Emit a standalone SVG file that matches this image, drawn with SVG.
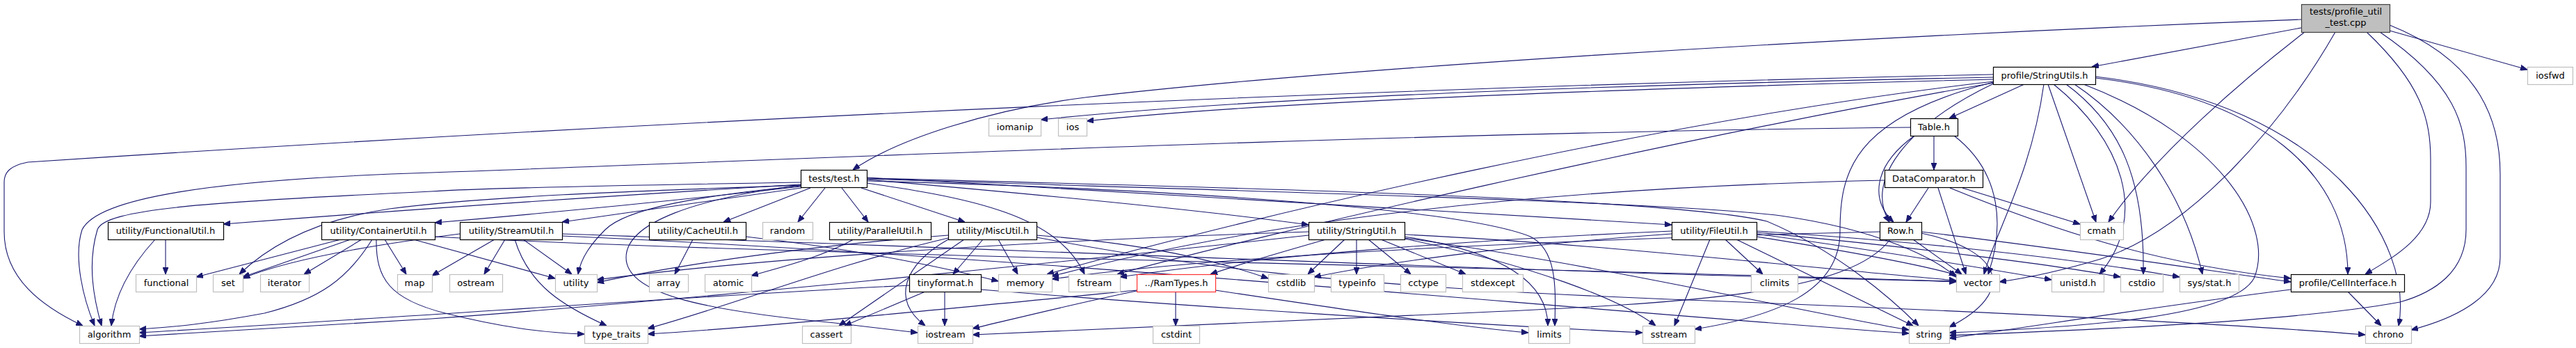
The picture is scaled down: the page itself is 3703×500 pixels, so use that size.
<svg xmlns="http://www.w3.org/2000/svg" width="3703" height="500" viewBox="0 0 3703 500">
<defs>
<style>
.edges path{fill:none;stroke:#191970;stroke-width:1.1;marker-end:url(#arr)}
rect{fill:#fff;stroke-width:1.2}
.n rect{stroke:#000}
.e rect{stroke:#bfbfbf}
.r rect{stroke:#ff3030}
.root rect{fill:#bfbfbf;stroke:#404040}
text{font-family:"DejaVu Sans","Liberation Sans",sans-serif;font-size:13px;text-anchor:middle;fill:#000}
</style>
<marker id="arr" markerUnits="userSpaceOnUse" markerWidth="10" markerHeight="8" refX="10" refY="4" orient="auto"><path d="M0,0 L10,4 L0,8 z" fill="#191970" stroke="#191970"/></marker>
</defs>
<rect x="0" y="0" width="3703" height="500" fill="#fff" stroke="none"/>
<g class="edges" id="edges">
<path d="M3308,28 C2600,55 1900,100 1560,140 C1420,158 1290,200 1226,244"/>
<path d="M3308,40 L3007,96"/>
<path d="M3313,46 C3230,110 3100,220 3031,319"/>
<path d="M3357,46 C3280,180 3150,330 3020,372 C2960,390 2910,400 2874,405"/>
<path d="M3402,46 C3480,120 3494,170 3494,230 L3494,290 C3494,340 3440,370 3400,394"/>
<path d="M3421,46 C3530,120 3545,180 3545,240 L3545,330 C3545,390 3500,420 3450,434 C3300,462 3000,474 2802,482"/>
<path d="M3435,36 C3570,90 3594,180 3594,250 L3594,370 C3594,430 3520,460 3466,474"/>
<path d="M3435,44 L3633,100"/>
<path d="M2865,107 C2000,125 1000,170 40,233 C15,238 6,247 6,262 L6,333 C6,400 60,440 119,468"/>
<path d="M2865,111 C2300,122 1800,140 1496,172"/>
<path d="M2865,114 C2300,128 1800,148 1562,174"/>
<path d="M2866,117 C2400,170 1800,310 1505,394"/>
<path d="M2866,119 C2400,200 1800,340 1606,394"/>
<path d="M2910,121 L2802,170"/>
<path d="M2866,120 C2740,180 2680,260 2716,319"/>
<path d="M2866,118 C2660,170 2645,250 2645,333 C2645,420 2550,455 2436,473"/>
<path d="M2938,121 C2920,250 2870,330 2852,394"/>
<path d="M2944,121 L3013,319"/>
<path d="M2952,121 C3050,200 3090,310 3018,394"/>
<path d="M2970,121 C3050,180 3083,260 3081,394"/>
<path d="M2982,121 C3070,180 3140,280 3166,394"/>
<path d="M3012,112 C3250,140 3375,250 3375,394"/>
<path d="M3012,110 C3350,150 3470,350 3448,468"/>
<path d="M2995,121 C3200,200 3270,330 3240,400 C3210,455 3000,470 2802,478"/>
<path d="M2746,183 C2000,190 1000,235 620,248 C300,258 140,285 118,330 C105,370 120,430 136,468"/>
<path d="M2752,195 C2690,240 2690,290 2722,319"/>
<path d="M2780,195 L2780,244"/>
<path d="M2809,195 C2880,250 2880,330 2858,394"/>
<path d="M2709,259 C2200,270 1800,320 1512,397"/>
<path d="M2772,270 L2740,319"/>
<path d="M2786,270 L2826,394"/>
<path d="M2821,270 L2990,322"/>
<path d="M2803,270 C2950,330 3100,380 3293,400"/>
<path d="M2750,344 L2820,394"/>
<path d="M2762,335 C2880,360 2900,420 2802,470"/>
<path d="M2762,333 C2950,355 3150,385 3293,405"/>
<path d="M2717,344 C2660,420 2450,435 2100,450 C1800,462 1500,476 1398,481"/>
<path d="M2702,333 C2400,340 1800,360 1512,401"/>
<path d="M2458,344 L2407,468"/>
<path d="M2480,344 L2534,394"/>
<path d="M2496,344 L2750,468"/>
<path d="M2525,340 C2650,360 2760,380 2812,395"/>
<path d="M2525,336 C2700,360 2850,385 2949,402"/>
<path d="M2525,334 C2750,355 2950,380 3048,398"/>
<path d="M2525,332 C2800,350 3000,375 3133,398"/>
<path d="M2403,332 C2100,345 1800,370 1610,398"/>
<path d="M2403,336 C2200,350 2000,375 1889,398"/>
<path d="M1933,344 L1880,394"/>
<path d="M1950,344 L1950,394"/>
<path d="M1967,344 L2028,394"/>
<path d="M1985,344 L2107,394"/>
<path d="M2019,340 C2150,360 2225,400 2225,468"/>
<path d="M2019,343 C2200,380 2330,430 2380,468"/>
<path d="M2019,342 C2300,380 2600,450 2744,474"/>
<path d="M2019,337 C2300,350 2600,385 2812,403"/>
<path d="M1906,344 C1850,360 1780,380 1740,394"/>
<path d="M1881,333 C1500,345 1100,370 858,402"/>
<path d="M1881,338 C1500,380 1000,430 620,458 C450,468 300,476 200,483"/>
<path d="M1151,262 C900,266 700,270 620,275 C300,290 150,300 140,330 C125,380 135,430 146,468"/>
<path d="M1151,265 C900,280 600,300 321,322"/>
<path d="M1151,268 C1000,285 800,305 625,320"/>
<path d="M1152,270 C1050,285 900,305 808,319"/>
<path d="M1151,266 C900,275 700,282 560,300 C460,315 390,350 344,394"/>
<path d="M1151,267 C1000,282 900,300 870,330 C850,350 835,370 831,394"/>
<path d="M1165,270 L1040,319"/>
<path d="M1186,270 L1147,319"/>
<path d="M1210,270 L1248,319"/>
<path d="M1238,270 L1387,319"/>
<path d="M1246,263 C1400,285 1520,310 1559,394"/>
<path d="M1151,266 C1000,285 900,320 900,370 C900,420 1000,445 1200,464 L1319,478"/>
<path d="M1246,258 C1500,280 1750,305 1881,323"/>
<path d="M1246,255 C1700,280 2200,310 2403,323"/>
<path d="M1246,260 C1700,272 2100,300 2200,340 C2240,360 2236,420 2235,468"/>
<path d="M1246,257 C1800,275 2400,290 2560,310 C2700,330 2780,370 2812,398"/>
<path d="M1246,256 C1800,270 2400,285 2540,318 C2640,360 2720,430 2758,468"/>
<path d="M1307,410 C1000,425 600,455 200,478"/>
<path d="M1330,419 L1214,468"/>
<path d="M1358,419 L1358,468"/>
<path d="M1410,416 C1700,440 2100,465 2361,478"/>
<path d="M1690,419 L1690,468"/>
<path d="M1634,418 C1550,435 1450,460 1398,472"/>
<path d="M1634,417 C1400,440 1100,470 931,480"/>
<path d="M1747,417 C1900,440 2100,470 2197,478"/>
<path d="M1413,344 L1370,394"/>
<path d="M1435,344 L1463,394"/>
<path d="M1386,344 L1206,468"/>
<path d="M1363,344 C1300,380 1280,430 1330,468"/>
<path d="M1363,338 C1200,350 1000,375 858,406"/>
<path d="M1363,342 C1200,380 1050,440 931,472"/>
<path d="M1490,338 C1650,350 1750,375 1823,400"/>
<path d="M1490,341 C1700,380 1900,410 2400,430 C2800,445 3200,465 3400,481"/>
<path d="M490,344 L282,398"/>
<path d="M504,344 L349,398"/>
<path d="M520,344 L437,394"/>
<path d="M535,344 C500,400 460,430 380,450 C300,465 250,470 200,473"/>
<path d="M553,344 L584,394"/>
<path d="M541,344 C540,400 560,430 640,450 C720,470 780,478 840,480"/>
<path d="M594,344 L798,400"/>
<path d="M625,340 C1200,370 2300,385 2812,405"/>
<path d="M661,336 C550,350 420,370 349,400"/>
<path d="M711,344 L621,396"/>
<path d="M726,344 L696,394"/>
<path d="M740,344 C760,410 810,440 872,468"/>
<path d="M752,344 L822,394"/>
<path d="M808,336 C1500,360 2300,395 2812,404"/>
<path d="M808,339 C1500,370 2200,440 2744,479"/>
<path d="M996,344 L970,394"/>
<path d="M1072,340 C1250,360 1380,390 1435,404"/>
<path d="M1227,344 C1180,370 1120,385 1080,396"/>
<path d="M238,344 L238,394"/>
<path d="M223,344 C190,380 165,420 160,468"/>
<path d="M3375,419 L3423,468"/>
<path d="M3293,416 C3100,440 2950,465 2802,486"/>
</g>
<g id="n-root" class="root"><rect x="3308.5" y="6.5" width="127" height="40"/><text x="3372" y="21">tests/profile_util</text><text x="3372" y="37">_test.cpp</text></g>
<g id="n-StringUtils" class="n"><rect x="2865.5" y="96.5" width="147" height="25"/><text x="2939" y="113">profile/StringUtils.h</text></g>
<g id="n-iosfwd" class="e"><rect x="3633.5" y="96.5" width="65" height="25"/><text x="3666" y="113">iosfwd</text></g>
<g id="n-iomanip" class="e"><rect x="1421.5" y="170.5" width="75" height="25"/><text x="1459" y="187">iomanip</text></g>
<g id="n-ios" class="e"><rect x="1521.5" y="170.5" width="41" height="25"/><text x="1542" y="187">ios</text></g>
<g id="n-Table" class="n"><rect x="2746.5" y="170.5" width="68" height="25"/><text x="2780" y="187">Table.h</text></g>
<g id="n-test" class="n"><rect x="1151.5" y="244.5" width="95" height="25"/><text x="1199" y="261">tests/test.h</text></g>
<g id="n-DataComparator" class="n"><rect x="2709.5" y="244.5" width="141" height="25"/><text x="2780" y="261">DataComparator.h</text></g>
<g id="n-FunctionalUtil" class="n"><rect x="155.5" y="319.5" width="166" height="25"/><text x="238" y="336">utility/FunctionalUtil.h</text></g>
<g id="n-ContainerUtil" class="n"><rect x="462.5" y="319.5" width="163" height="25"/><text x="544" y="336">utility/ContainerUtil.h</text></g>
<g id="n-StreamUtil" class="n"><rect x="661.5" y="319.5" width="147" height="25"/><text x="735" y="336">utility/StreamUtil.h</text></g>
<g id="n-CacheUtil" class="n"><rect x="933.5" y="319.5" width="139" height="25"/><text x="1003" y="336">utility/CacheUtil.h</text></g>
<g id="n-random" class="e"><rect x="1096.5" y="319.5" width="72" height="25"/><text x="1132" y="336">random</text></g>
<g id="n-ParallelUtil" class="n"><rect x="1192.5" y="319.5" width="146" height="25"/><text x="1265" y="336">utility/ParallelUtil.h</text></g>
<g id="n-MiscUtil" class="n"><rect x="1363.5" y="319.5" width="127" height="25"/><text x="1427" y="336">utility/MiscUtil.h</text></g>
<g id="n-StringUtil" class="n"><rect x="1881.5" y="319.5" width="138" height="25"/><text x="1950" y="336">utility/StringUtil.h</text></g>
<g id="n-FileUtil" class="n"><rect x="2403.5" y="319.5" width="122" height="25"/><text x="2464" y="336">utility/FileUtil.h</text></g>
<g id="n-Row" class="n"><rect x="2702.5" y="319.5" width="60" height="25"/><text x="2732" y="336">Row.h</text></g>
<g id="n-cmath" class="e"><rect x="2990.5" y="319.5" width="62" height="25"/><text x="3021" y="336">cmath</text></g>
<g id="n-functional" class="e"><rect x="195.5" y="394.5" width="87" height="25"/><text x="239" y="411">functional</text></g>
<g id="n-set" class="e"><rect x="306.5" y="394.5" width="43" height="25"/><text x="328" y="411">set</text></g>
<g id="n-iterator" class="e"><rect x="374.5" y="394.5" width="70" height="25"/><text x="409" y="411">iterator</text></g>
<g id="n-map" class="e"><rect x="571.5" y="394.5" width="50" height="25"/><text x="596" y="411">map</text></g>
<g id="n-ostream" class="e"><rect x="646.5" y="394.5" width="76" height="25"/><text x="684" y="411">ostream</text></g>
<g id="n-utility" class="e"><rect x="798.5" y="394.5" width="60" height="25"/><text x="828" y="411">utility</text></g>
<g id="n-array" class="e"><rect x="933.5" y="394.5" width="56" height="25"/><text x="961" y="411">array</text></g>
<g id="n-atomic" class="e"><rect x="1013.5" y="394.5" width="67" height="25"/><text x="1047" y="411">atomic</text></g>
<g id="n-tinyformat" class="n"><rect x="1307.5" y="394.5" width="103" height="25"/><text x="1359" y="411">tinyformat.h</text></g>
<g id="n-memory" class="e"><rect x="1435.5" y="394.5" width="77" height="25"/><text x="1474" y="411">memory</text></g>
<g id="n-fstream" class="e"><rect x="1536.5" y="394.5" width="74" height="25"/><text x="1573" y="411">fstream</text></g>
<g id="n-RamTypes" class="r"><rect x="1634.5" y="394.5" width="113" height="25"/><text x="1691" y="411">../RamTypes.h</text></g>
<g id="n-cstdlib" class="e"><rect x="1823.5" y="394.5" width="66" height="25"/><text x="1856" y="411">cstdlib</text></g>
<g id="n-typeinfo" class="e"><rect x="1913.5" y="394.5" width="76" height="25"/><text x="1951" y="411">typeinfo</text></g>
<g id="n-cctype" class="e"><rect x="2013.5" y="394.5" width="65" height="25"/><text x="2046" y="411">cctype</text></g>
<g id="n-stdexcept" class="e"><rect x="2102.5" y="394.5" width="87" height="25"/><text x="2146" y="411">stdexcept</text></g>
<g id="n-climits" class="e"><rect x="2517.5" y="394.5" width="67" height="25"/><text x="2551" y="411">climits</text></g>
<g id="n-vector" class="e"><rect x="2812.5" y="394.5" width="62" height="25"/><text x="2843" y="411">vector</text></g>
<g id="n-unistd" class="e"><rect x="2949.5" y="394.5" width="75" height="25"/><text x="2987" y="411">unistd.h</text></g>
<g id="n-cstdio" class="e"><rect x="3048.5" y="394.5" width="61" height="25"/><text x="3079" y="411">cstdio</text></g>
<g id="n-sysstat" class="e"><rect x="3133.5" y="394.5" width="85" height="25"/><text x="3176" y="411">sys/stat.h</text></g>
<g id="n-CellInterface" class="n"><rect x="3293.5" y="394.5" width="163" height="25"/><text x="3375" y="411">profile/CellInterface.h</text></g>
<g id="n-algorithm" class="e"><rect x="114.5" y="468.5" width="86" height="25"/><text x="157" y="485">algorithm</text></g>
<g id="n-type_traits" class="e"><rect x="840.5" y="468.5" width="91" height="25"/><text x="886" y="485">type_traits</text></g>
<g id="n-cassert" class="e"><rect x="1153.5" y="468.5" width="70" height="25"/><text x="1188" y="485">cassert</text></g>
<g id="n-iostream" class="e"><rect x="1319.5" y="468.5" width="79" height="25"/><text x="1359" y="485">iostream</text></g>
<g id="n-cstdint" class="e"><rect x="1657.5" y="468.5" width="67" height="25"/><text x="1691" y="485">cstdint</text></g>
<g id="n-limits" class="e"><rect x="2197.5" y="468.5" width="59" height="25"/><text x="2227" y="485">limits</text></g>
<g id="n-sstream" class="e"><rect x="2361.5" y="468.5" width="75" height="25"/><text x="2399" y="485">sstream</text></g>
<g id="n-string" class="e"><rect x="2744.5" y="468.5" width="58" height="25"/><text x="2773" y="485">string</text></g>
<g id="n-chrono" class="e"><rect x="3400.5" y="468.5" width="66" height="25"/><text x="3433" y="485">chrono</text></g>
</svg>
